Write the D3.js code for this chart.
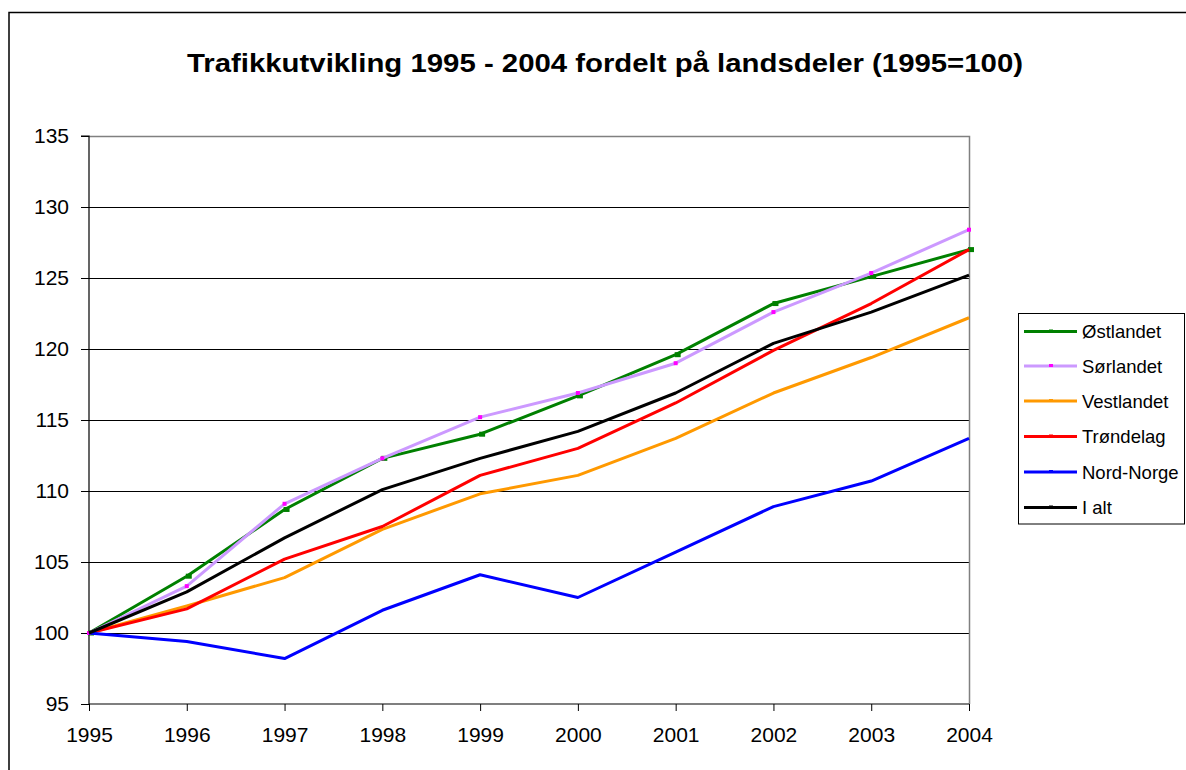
<!DOCTYPE html>
<html><head><meta charset="utf-8">
<script src="https://cdn.jsdelivr.net/npm/d3@7"></script>
<style>body{margin:0;background:#fff}svg{display:block}text{font-family:Arial,"Liberation Sans",sans-serif;fill:#000}</style>
</head><body><svg id="c" width="1186" height="770"></svg>
<script>
const title = "Trafikkutvikling 1995 - 2004 fordelt på landsdeler (1995=100)";
const years = [1995, 1996, 1997, 1998, 1999, 2000, 2001, 2002, 2003, 2004];
const ostlandet  = [100, 104.0, 108.7, 112.3, 114.0, 116.7, 119.6, 123.2, 125.1, 127.0];
const sorlandet  = [100, 103.3, 109.1, 112.3, 115.2, 116.9, 119.0, 122.6, 125.35, 128.4];
const vestlandet = [100, 101.9, 103.9, 107.3, 109.8, 111.1, 113.7, 116.9, 119.4, 122.2];
const trondelag  = [100, 101.7, 105.2, 107.5, 111.1, 113.0, 116.2, 119.9, 123.2, 127.0];
const nordNorge  = [100, 99.4, 98.2, 101.6, 104.1, 102.5, 105.7, 108.9, 110.7, 113.7];
const iAlt       = [100, 102.9, 106.7, 110.1, 112.3, 114.2, 116.9, 120.4, 122.6, 125.2];
const seriesNames = ["Østlandet", "Sørlandet", "Vestlandet", "Trøndelag", "Nord-Norge", "I alt"];
const seriesValues = [ostlandet, sorlandet, vestlandet, trondelag, nordNorge, iAlt];
const seriesColors = ["#008000", "#CC99FF", "#FF9900", "#FF0000", "#0000FF", "#000000"];
const markerColors = ["#008000", "#FF00FF", "#FF9900", "#FF0000", "#0000FF", "#000000"];
const yTicks = [95, 100, 105, 110, 115, 120, 125, 130, 135];

const svg = d3.select("#c");
const L = 89, R = 969, T = 136, B = 704;
const x = d3.scaleLinear().domain([1995, 2004]).range([L, R]);
const y = d3.scaleLinear().domain([95, 135]).range([B, T]);

// outer frame
svg.append("rect").attr("x", 9).attr("y", 12.5).attr("width", 1300).attr("height", 900)
  .attr("fill", "none").attr("stroke", "#000").attr("stroke-width", 1.5);

// title
svg.append("text").attr("x", 605).attr("y", 72).attr("text-anchor", "middle")
  .attr("font-size", 26).attr("font-weight", "bold")
  .attr("textLength", 836).attr("lengthAdjust", "spacingAndGlyphs").text(title);

// gridlines
svg.append("g").selectAll("line").data(yTicks.filter(d => d > 95 && d < 135)).join("line")
  .attr("x1", L).attr("x2", R).attr("y1", d => Math.round(y(d)) + 0.5).attr("y2", d => Math.round(y(d)) + 0.5)
  .attr("stroke", "#000").attr("stroke-width", 1);
// plot border top/right
svg.append("path").attr("d", `M${L},${T + 0.5}H${R + 0.5}V${B}`).attr("fill", "none")
  .attr("stroke", "#808080").attr("stroke-width", 1.5);

// axes
const yAxis = svg.append("g").attr("transform", `translate(${L},0)`)
  .call(d3.axisLeft(y).tickValues(yTicks).tickSize(8).tickPadding(12).tickFormat(d3.format("d")));
const xAxis = svg.append("g").attr("transform", `translate(0,${B})`)
  .call(d3.axisBottom(x).tickValues(years).tickSize(7).tickPadding(16).tickFormat(d3.format("d")));
[yAxis, xAxis].forEach(a => {
  a.select(".domain").attr("stroke", "#000").attr("stroke-width", 1.2);
  a.selectAll(".tick line").attr("stroke", "#000");
  a.selectAll("text").attr("font-size", 21).attr("font-family", "Arial, 'Liberation Sans', sans-serif").attr("fill", "#000");
});
yAxis.select(".domain").attr("d", `M-8,${T}H0V${B}`);
xAxis.select(".domain").attr("d", `M${L},0H${R}`);

// lines
const line = d3.line().x((d, i) => x(years[i])).y(d => y(d));
const g = svg.append("g");
seriesValues.forEach((vals, si) => {
  g.append("path").attr("d", line(vals)).attr("fill", "none")
    .attr("stroke", seriesColors[si]).attr("stroke-width", 3).attr("stroke-linejoin", "round");
  const mk = g.append("g");
  if (si === 0) {
    mk.selectAll("rect").data(vals).join("rect")
      .attr("x", (d, i) => x(years[i]) - 1).attr("y", d => y(d) - 2.5).attr("width", 6).attr("height", 5)
      .attr("fill", markerColors[si]);
  } else if (si === 1) {
    mk.selectAll("rect").data(vals).join("rect")
      .attr("x", (d, i) => x(years[i]) - 2).attr("y", d => y(d) - 2).attr("width", 4).attr("height", 4)
      .attr("fill", markerColors[si]);
  }
});

// legend
const lg = svg.append("g");
lg.append("rect").attr("x", 1018.5).attr("y", 313.5).attr("width", 166).attr("height", 210.5)
  .attr("fill", "#fff").attr("stroke", "#000").attr("stroke-width", 1);
const legY = [331.5, 366, 401, 436.5, 472, 507.5];
seriesNames.forEach((name, i) => {
  const yy = legY[i];
  lg.append("line").attr("x1", 1024).attr("x2", 1077).attr("y1", yy).attr("y2", yy)
    .attr("stroke", seriesColors[i]).attr("stroke-width", 3);
  lg.append("rect").attr("x", 1049).attr("y", yy - 2).attr("width", 4).attr("height", 3)
    .attr("fill", markerColors[i]);
  lg.append("text").attr("x", 1082).attr("y", yy + 6.5).attr("font-size", 18.5).text(name);
});
</script></body></html>
